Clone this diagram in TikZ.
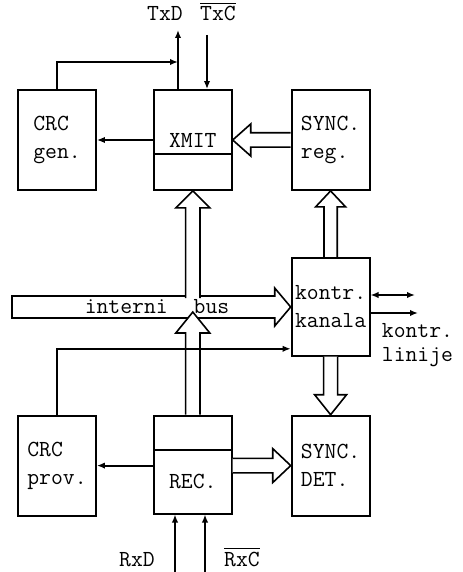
\documentclass[tikz,border=0pt]{standalone}
\usepackage{fontspec}
\usetikzlibrary{positioning,arrows.meta,calc}

\begin{document}
\begin{tikzpicture}[
  x=0.5pt, y=-0.5pt,
  font=\ttfamily\fontsize{11.5}{14}\selectfont,
  line width=0.9pt,
  >={Latex[length=4pt,width=3.2pt]},
  box/.style={rectangle,draw,align=left,minimum width=39pt,minimum height=50pt,inner sep=2pt},
  arr/.style={->},
  hw/.store in=\fhw, hh/.store in=\fhh, hl/.store in=\fhl,
  hw=3.6pt, hh=8pt, hl=9pt,
  fat/.style={fill=white,line width=0.8pt,to path={
    ($(\tikztostart)!\fhw!90:(\tikztotarget)$)
    -- ($(\tikztotarget)!\fhl!(\tikztostart)!\fhw!-90:(\tikztostart)$)
    -- ($(\tikztotarget)!\fhl!(\tikztostart)!\fhh!-90:(\tikztostart)$)
    -- (\tikztotarget)
    -- ($(\tikztotarget)!\fhl!(\tikztostart)!\fhh!90:(\tikztostart)$)
    -- ($(\tikztotarget)!\fhl!(\tikztostart)!\fhw!90:(\tikztostart)$)
    -- ($(\tikztostart)!\fhw!-90:(\tikztotarget)$)}}
]
\useasboundingbox (0,0) rectangle (462,572);

% bloki
\node[box] (crcgen) at (57,140) {CRC\\gen.};
\node[box,right=28pt of crcgen] (xmit) {XMIT};
\node[box,right=29pt of xmit] (syncreg) {SYNC.\\reg.};
\node[box,below=33pt of syncreg,minimum height=49pt,inner xsep=0pt] (kontr) {kontr.\\kanala};
\node[box,below=29pt of kontr] (syncdet) {SYNC.\\DET.};
\node[box,minimum height=17pt,anchor=north] (recbuf) at (xmit |- syncdet.north) {};
\node[box,minimum height=32pt,below=-0.9pt of recbuf] (rec) {REC.};
\node[box] (crcprov) at (crcgen |- syncdet) {CRC\\prov.};
\draw ([yshift=-32.5pt]xmit.north west) -- ([yshift=-32.5pt]xmit.north east);

% gornji deo
\coordinate (txdout) at (178,30);
\coordinate (txcin) at (207,35);
\coordinate (crcjoin) at (178,62);
\node[anchor=base] (txd) at (165,21) {TxD};
\node[anchor=base] (txc) at (218,21) {$\overline{\hbox{TxC}}$};
\draw[arr] (xmit.north -| txdout) -- (txdout);
\draw[arr] (txcin) -- (txcin |- xmit.north);
\draw[arr] (crcgen.north) |- (crcjoin);
\draw[arr] (xmit.west |- crcgen.east) -- (crcgen.east);
\draw[fat] (syncreg.west) to (syncreg.west -| xmit.east);

% interni bus
\coordinate (busend) at (12,307);
\draw[fat,hw=5.5pt,hh=9.5pt,hl=8pt] (busend) to (busend -| kontr.west) -- cycle;
\draw[fat,hh=8.5pt,hl=8.5pt] ([yshift=4.5pt]xmit.south |- busend) to (xmit.south);
\draw[fat,hh=8.5pt,hl=10.5pt] (recbuf.north) to ([yshift=-2.5pt]recbuf.north |- busend);
\node (buslbl) at (157,307) {interni\hspace{13pt}bus};

% kontrola kanala
\draw[fat,hw=3.3pt,hh=7.5pt,hl=8pt] (kontr.north) to (syncreg.south);
\draw[fat,hw=3.5pt,hh=8pt,hl=10pt] (kontr.south) to (syncdet.north);
\coordinate (kl1) at (415,295);
\coordinate (kl2) at (418,313);
\draw[<->] (kontr.east |- kl1) -- (kl1);
\draw[arr] (kontr.east |- kl2) -- (kl2);
\node[align=left,anchor=west,inner sep=0pt,font=\ttfamily\fontsize{11.5}{12}\selectfont] (linije) at (381,345) {kontr.\\linije};
\draw[arr] (crcprov.north) |- ([yshift=-21pt]kontr.west);

% donji deo
\draw[arr] (rec.west |- crcprov.east) -- (crcprov.east);
\draw[fat,hh=8.5pt] (rec.east |- syncdet.west) to (syncdet.west);
\coordinate (rxdin) at (175,572);
\coordinate (rxcin) at (205,572);
\draw[arr] (rxdin) -- (rxdin |- rec.south);
\draw[arr] (rxcin) -- (rxcin |- rec.south);
\node[anchor=base] (rxd) at (137,566) {RxD};
\node[anchor=base] (rxc) at (242,566) {$\overline{\hbox{RxC}}$};
\end{tikzpicture}
\end{document}
